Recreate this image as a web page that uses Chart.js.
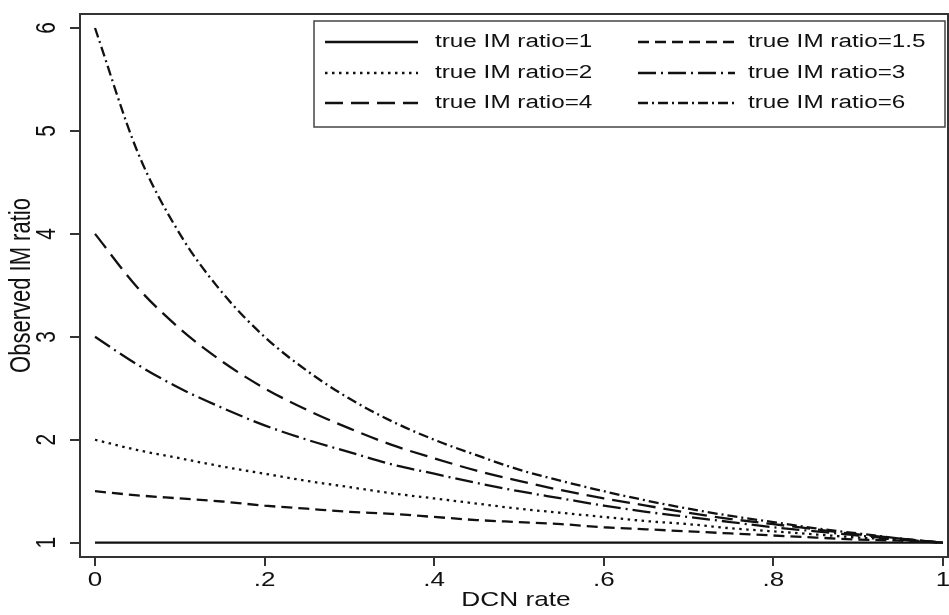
<!DOCTYPE html>
<html>
<head>
<meta charset="utf-8">
<title>Observed IM ratio vs DCN rate</title>
<script src="https://cdn.jsdelivr.net/npm/chart.js@4.4.0/dist/chart.umd.min.js"></script>
<style>
  html, body { margin: 0; padding: 0; background: #fff; }
  #wrap { width: 949px; height: 615px; position: relative; }
</style>
</head>
<body>
<div id="wrap"><canvas id="imChart"></canvas></div>
<script>
// DCN rate (x) and observed IM ratio for each true IM ratio
const dcnRate = [0, 0.05, 0.1, 0.15, 0.2, 0.25, 0.3, 0.35, 0.4, 0.45, 0.5,
                 0.55, 0.6, 0.65, 0.7, 0.75, 0.8, 0.85, 0.9, 0.95, 1];
const ratio1  = [1, 1, 1, 1, 1, 1, 1, 1, 1, 1, 1, 1, 1, 1, 1, 1, 1, 1, 1, 1, 1];
const ratio15 = [1.50, 1.46, 1.43, 1.40, 1.36, 1.33, 1.30, 1.28, 1.25, 1.22, 1.20,
                 1.18, 1.15, 1.13, 1.11, 1.09, 1.07, 1.05, 1.03, 1.02, 1.00];
const ratio2  = [2.00, 1.90, 1.82, 1.74, 1.67, 1.60, 1.54, 1.48, 1.43, 1.38, 1.33,
                 1.29, 1.25, 1.21, 1.18, 1.14, 1.11, 1.08, 1.05, 1.03, 1.00];
const ratio3  = [3.00, 2.73, 2.50, 2.31, 2.14, 2.00, 1.88, 1.76, 1.67, 1.58, 1.50,
                 1.43, 1.36, 1.30, 1.25, 1.20, 1.15, 1.11, 1.07, 1.03, 1.00];
const ratio4  = [4.00, 3.48, 3.08, 2.76, 2.50, 2.29, 2.11, 1.95, 1.82, 1.70, 1.60,
                 1.51, 1.43, 1.36, 1.29, 1.23, 1.18, 1.13, 1.08, 1.04, 1.00];
const ratio6  = [6.00, 4.80, 4.00, 3.43, 3.00, 2.67, 2.40, 2.18, 2.00, 1.85, 1.71,
                 1.60, 1.50, 1.41, 1.33, 1.26, 1.20, 1.14, 1.09, 1.04, 1.00];

const seriesLabels = ['true IM ratio=1', 'true IM ratio=1.5', 'true IM ratio=2',
                      'true IM ratio=3', 'true IM ratio=4', 'true IM ratio=6'];
const xTicks = [0, 0.2, 0.4, 0.6, 0.8, 1];
const xTickLabels = ['0', '.2', '.4', '.6', '.8', '1'];
const yTicks = [1, 2, 3, 4, 5, 6];
const yTickLabels = ['1', '2', '3', '4', '5', '6'];

const INK = '#111';
const FONT = '"Liberation Sans", Arial, sans-serif';

// dash patterns, Stata style
const dashes = [[], [11, 6], [2.5, 4.5], [18, 5, 2, 5], [18, 8], [10, 4, 2, 4]];
const allSeries = [ratio1, ratio15, ratio2, ratio3, ratio4, ratio6];

const datasets = allSeries.map((arr, i) => ({
    label: seriesLabels[i],
    data: dcnRate.map((x, j) => ({ x: x, y: arr[j] })),
    borderColor: INK,
    borderWidth: 2.3,
    borderDash: dashes[i],
    borderCapStyle: 'butt',
    pointRadius: 0,
    fill: false,
    cubicInterpolationMode: 'monotone'
}));

// text looks horizontally stretched in the original
function stretchedText(ctx, text, x, y, size, sx, rotate) {
    ctx.save();
    ctx.translate(x, y);
    ctx.scale(sx, 1);
    if (rotate) ctx.rotate(-Math.PI / 2);
    ctx.font = size + 'px ' + FONT;
    ctx.fillStyle = INK;
    ctx.textAlign = 'center';
    ctx.textBaseline = 'middle';
    ctx.fillText(text, 0, 0);
    ctx.restore();
}

const decorPlugin = {
    id: 'decor',
    afterDraw(chart) {
        const ctx = chart.ctx;
        const area = chart.chartArea;
        const xs = chart.scales.x, ys = chart.scales.y;

        // plot frame
        ctx.save();
        ctx.strokeStyle = '#333';
        ctx.lineWidth = 2;
        ctx.strokeRect(area.left, area.top, area.right - area.left, area.bottom - area.top);
        ctx.restore();

        // tick labels
        xTicks.forEach((v, i) => {
            stretchedText(ctx, xTickLabels[i], xs.getPixelForValue(v), 580, 20, 1.3, false);
        });
        yTicks.forEach((v, i) => {
            stretchedText(ctx, yTickLabels[i], 47, ys.getPixelForValue(v), 21, 1.3, true);
        });

        // axis titles
        stretchedText(ctx, 'DCN rate', (area.left + area.right) / 2 + 2, 600, 21, 1.25, false);
        stretchedText(ctx, 'Observed IM ratio', 22, (area.top + area.bottom) / 2, 22, 1.3, true);

        // legend box
        const box = { left: 314, top: 21, right: 945, bottom: 127 };
        ctx.save();
        ctx.fillStyle = '#fff';
        ctx.fillRect(box.left, box.top, box.right - box.left, box.bottom - box.top);
        ctx.strokeStyle = '#444';
        ctx.lineWidth = 1.5;
        ctx.strokeRect(box.left, box.top, box.right - box.left, box.bottom - box.top);
        ctx.restore();

        const rows = [42, 73, 103];
        const cols = [
            { x0: 325, x1: 418, tx: 435 },
            { x0: 638, x1: 735, tx: 748 }
        ];
        datasets.forEach((ds, i) => {
            const col = cols[i % 2];
            const y = rows[Math.floor(i / 2)];
            ctx.save();
            ctx.strokeStyle = INK;
            ctx.lineWidth = 2.3;
            ctx.setLineDash(ds.borderDash);
            ctx.beginPath();
            ctx.moveTo(col.x0, y);
            ctx.lineTo(col.x1, y);
            ctx.stroke();
            ctx.restore();

            ctx.save();
            ctx.translate(col.tx, y);
            ctx.scale(1.35, 1);
            ctx.font = '18px ' + FONT;
            ctx.fillStyle = INK;
            ctx.textAlign = 'left';
            ctx.textBaseline = 'middle';
            ctx.fillText(ds.label, 0, 0);
            ctx.restore();
        });
    }
};

const ctx = document.getElementById('imChart').getContext('2d');
new Chart(ctx, {
    type: 'line',
    data: { datasets },
    options: {
        responsive: true,
        maintainAspectRatio: false,
        devicePixelRatio: 1,
        animation: false,
        layout: { padding: { top: 14, right: 1, left: 0, bottom: 0 } },
        plugins: {
            legend: { display: false },
            tooltip: { enabled: false }
        },
        scales: {
            x: {
                type: 'linear',
                min: -0.0177,
                max: 1.006,
                afterBuildTicks: s => { s.ticks = xTicks.map(v => ({ value: v })); },
                afterFit: s => { s.height = 58; },
                ticks: { display: false },
                border: { display: false },
                grid: { drawOnChartArea: false, drawTicks: true, tickLength: 9, color: '#333', lineWidth: 2 }
            },
            y: {
                type: 'linear',
                min: 0.861,
                max: 6.136,
                afterBuildTicks: s => { s.ticks = yTicks.map(v => ({ value: v })); },
                afterFit: s => { s.width = 80; },
                ticks: { display: false },
                border: { display: false },
                grid: { drawOnChartArea: false, drawTicks: true, tickLength: 10, color: '#333', lineWidth: 2 }
            }
        }
    },
    plugins: [decorPlugin]
});
</script>
</body>
</html>
